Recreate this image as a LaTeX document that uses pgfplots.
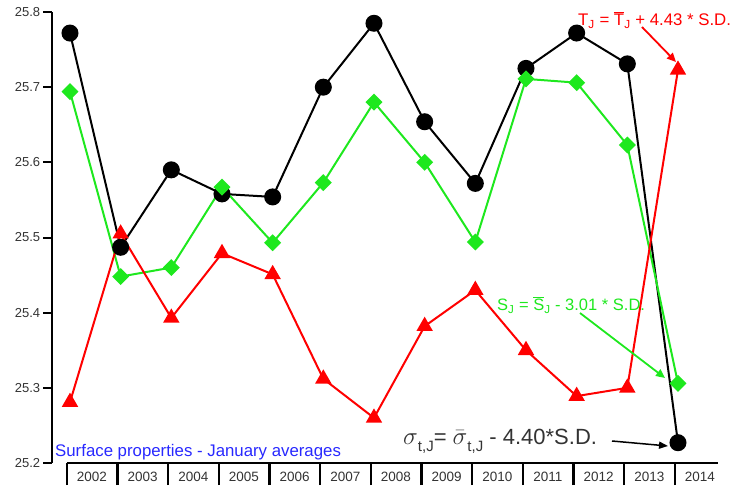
\documentclass[border=0pt]{standalone}
\usepackage{fontspec}
\setmainfont{Liberation Sans}
\usepackage{pgfplots}
\pgfplotsset{compat=1.18}
\usetikzlibrary{arrows.meta}
\definecolor{lgreen}{RGB}{30,232,30}
\definecolor{tgray}{RGB}{51,51,51}
\definecolor{tblue}{RGB}{40,40,255}
\begin{document}
\begin{tikzpicture}
\begin{axis}[
  name=ax, at={(0,0)}, anchor=south west,
  scale only axis, width=666pt, height=451pt,
  xmin=-0.355, xmax=12.79, ymin=25.2, ymax=25.8,
  axis x line=bottom, axis y line=left,
  x axis line style={-, line width=1.5pt, shorten <=15pt},
  y axis line style={-, line width=2pt},
  tick align=outside,
  ytick={25.2,25.3,25.4,25.5,25.6,25.7,25.8},
  /pgf/number format/assume math mode=true,
  yticklabel style={font=\fontsize{13}{13}\selectfont, text=tgray, xshift=-4pt,
     /pgf/number format/fixed, /pgf/number format/precision=1, /pgf/number format/fixed zerofill},
  ytick style={black, line width=2pt, /pgfplots/major tick length=9pt},
  xtick={-0.06,0.94,1.94,2.94,3.94,4.94,5.94,6.94,7.94,8.94,9.94,10.94,11.94},
  xticklabels={2002,2003,2004,2005,2006,2007,2008,2009,2010,2011,2012,2013,2014},
  xtick style={black, line width=2.4pt, /pgfplots/major tick length=22pt},
  xticklabel style={font=\fontsize{13.5}{13.5}\selectfont, text=tgray, anchor=center, xshift=25pt, yshift=-10pt},
  clip=false,
]
\addplot[black, line width=2pt, mark=*, mark size=7.5pt] coordinates {
(0,25.772)(1,25.487)(2,25.590)(3,25.558)(4,25.554)(5,25.700)(6,25.785)(7,25.654)(8,25.572)(9,25.725)(10,25.772)(11,25.731)(12,25.227)};
\addplot[lgreen, line width=2pt, mark=square*, mark size=5pt, mark options={rotate=45}] coordinates {
(0,25.694)(1,25.448)(2,25.460)(3,25.567)(4,25.493)(5,25.573)(6,25.680)(7,25.600)(8,25.494)(9,25.711)(10,25.706)(11,25.623)(12,25.306)};
\addplot[red, line width=2pt, mark=triangle*, mark size=7.5pt] coordinates {
(0,25.281)(1,25.505)(2,25.393)(3,25.479)(4,25.451)(5,25.312)(6,25.260)(7,25.382)(8,25.430)(9,25.350)(10,25.289)(11,25.300)(12,25.723)};
\end{axis}
\begin{scope}[shift={(-52pt,463pt)}, x=1pt, y=-1pt]
\node[anchor=west, text=red, font=\fontsize{16.8}{16.8}\selectfont, inner sep=0] at (578,20) {T\textsubscript{J} = $\overline{\mbox{T}}$\textsubscript{J} + 4.43 * S.D.};
\node[anchor=west, text=lgreen, font=\fontsize{16.5}{16.5}\selectfont, inner sep=0] at (497,305) {S\textsubscript{J} = $\overline{\mbox{S}}$\textsubscript{J} - 3.01 * S.D.};
\node[anchor=west, text=tblue, font=\fontsize{16.8}{16.8}\selectfont, inner sep=0] at (55,452) {Surface properties - January averages};
\node[anchor=west, text=tgray, font=\fontsize{22}{22}\selectfont, inner sep=0] at (403,441) {{\fontsize{27}{27}\selectfont$\sigma$}\raisebox{-0.3em}{\fontsize{15}{15}\selectfont t,J}= {\fontsize{27}{27}\selectfont$\bar{\sigma}$}\raisebox{-0.3em}{\fontsize{15}{15}\selectfont t,J} - 4.40*S.D.};
\draw[red, line width=1.8pt, -{Triangle[length=9pt,width=8pt]}] (642,27) -- (676,62);
\draw[lgreen, line width=1.8pt, -{Triangle[length=9pt,width=8pt]}] (580,313) -- (665,378);
\draw[black, line width=1.5pt, -{Triangle[length=9pt,width=7pt]}] (612,441) -- (668,446);
\end{scope}
\pgfresetboundingbox
\path (-52pt,-22pt) rectangle ++(730pt,485pt);
\end{tikzpicture}
\end{document}
